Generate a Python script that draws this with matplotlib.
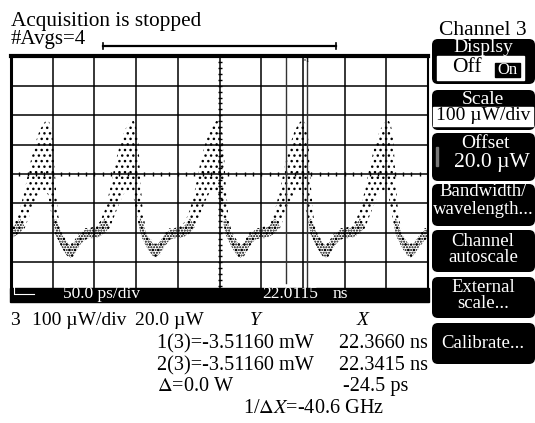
"""Sampling-scope screen capture: Channel 3 pulse train, 50 ps/div."""

import matplotlib.pyplot as plt
import numpy as np
from matplotlib.patches import FancyBboxPatch, Rectangle

plt.rcParams["font.family"] = ["Liberation Serif", "DejaVu Serif"]
plt.rcParams["mathtext.fontset"] = "stix"
plt.rcParams["hatch.linewidth"] = 1.0
plt.rcParams["hatch.color"] = "black"

W, H = 535, 423

# scope settings (time in ps, power in uW)
t_left_ps = 22011.5
ps_per_div = 50.0
uw_per_div = 100.0
offset_uw = 20.0
n_xdiv, n_ydiv = 10, 8

# dot cloud of one period, read relative to each pulse peak
phase_ps = [-48, -42, -36, -30, -24, -18, -12, -6, 0, 4, 7,
            10, 13, 16, 20, 26, 31, 36, 42, 48, 54]
cloud_low_uw = [-198, -198, -194, -181, -164, -119, -75, -41, -34, -51, -102,
                -143, -187, -204, -228, -255, -272, -255, -225, -204, -198]
cloud_high_uw = [-164, -157, -143, -102, -34, 51, 119, 170, 197, 204, 187,
                 136, -17, -119, -177, -204, -218, -204, -177, -164, -164]
# denser core of the dots (valley and plateau only)
core_low_uw = [-196, -196, -192, -180, -160, -119, -75, -41, -34, -51, -102,
               -143, -187, -204, -228, -255, -265, -250, -222, -204, -196]
core_high_uw = [-168, -165, -155, -130, -160, -119, -75, -41, -34, -51, -102,
                -143, -130, -150, -185, -210, -225, -210, -185, -170, -168]
peak_ps = [22052, 22154, 22256, 22358, 22460]

# marker positions
marker1_ps = 22366.0
marker2_ps = 22341.5

fig = plt.figure(figsize=(W / 100, H / 100), dpi=100)

# ---- scope graticule -------------------------------------------------------
gx0, gx1, gy0, gy1 = 11, 428, 56.4, 291.6
ax = fig.add_axes([gx0 / W, (H - gy1) / H, (gx1 - gx0) / W, (gy1 - gy0) / H])
t_right = t_left_ps + n_xdiv * ps_per_div
y_low = offset_uw - n_ydiv / 2 * uw_per_div
y_high = offset_uw + n_ydiv / 2 * uw_per_div
ax.set_xlim(t_left_ps, t_right)
ax.set_ylim(y_low, y_high)
ax.set_xticks(np.linspace(t_left_ps, t_right, n_xdiv + 1))
ax.set_yticks(np.linspace(y_low, y_high, n_ydiv + 1))
ax.grid(True, color="black", lw=1.1)
ax.tick_params(length=0, labelbottom=False, labelleft=False)
ax.spines["top"].set_linewidth(3)
ax.spines["left"].set_linewidth(2.2)
ax.spines["right"].set_linewidth(1.5)
ax.spines["bottom"].set_visible(False)

# small ticks along the centre lines, 5 per division
t_mid = t_left_ps + n_xdiv / 2 * ps_per_div
xt = np.arange(t_left_ps, t_right + 0.1, ps_per_div / 5)
yt = np.arange(y_low, y_high + 0.1, uw_per_div / 5)
ax.plot(xt, np.full(len(xt), offset_uw), ls="none", marker="|",
        ms=3.5, mew=1, color="black")
ax.plot(np.full(len(yt), t_mid), yt, ls="none", marker="_",
        ms=3.5, mew=1, color="black")

# waveform dots
for p in peak_ps:
    t = p + np.array(phase_ps)
    ax.fill_between(t, cloud_low_uw, cloud_high_uw, facecolor="none",
                    edgecolor="black", hatch="...", linewidth=0)
    ax.fill_between(t, core_low_uw, core_high_uw, facecolor="none",
                    edgecolor="black", hatch="......", linewidth=0)

# cursors
ax.axvline(marker2_ps, ymin=0.037, ymax=1, color="#333333", lw=1)
ax.axvline(marker1_ps, color="#333333", lw=1)

# ---- overlay in pixel coordinates --------------------------------------------
ov = fig.add_axes([0, 0, 1, 1])
ov.set_xlim(0, W)
ov.set_ylim(H, 0)
ov.set_axis_off()

ov.text(306, 61, "×1", fontsize=5, color="black", ha="center", va="center")

ov.text(11, 26, "Acquisition is stopped", fontsize=15.3, va="baseline")
ov.text(11, 44, "#Avgs=4", fontsize=15, va="baseline")
ov.plot([103, 336], [46, 46], color="black", lw=1.6)
ov.plot([103, 103], [43, 49], color="black", lw=1.2)
ov.plot([336, 336], [43, 49], color="black", lw=1.2)

# bottom status bar
ov.add_patch(Rectangle((10, 288), 419, 14, color="black"))
ov.plot([14, 14], [287, 293], color="white", lw=0.8)
ov.plot([14, 34], [294, 294], color="white", lw=0.8)
ov.text(63, 298, "50.0 ps/div", fontsize=12.5, color="white", va="baseline")
ov.text(262, 298, "22.0115", fontsize=12.5, color="white", va="baseline")
ov.text(333, 298, "ns", fontsize=12.5, color="white", va="baseline")

# readout lines
fs = 14.6
ov.text(10, 325, "3", fontsize=14, va="baseline")
ov.text(32, 325, "100 µW/div", fontsize=14, va="baseline")
ov.text(135, 325, "20.0 µW", fontsize=14, va="baseline")
ov.text(250, 325, "Y", fontsize=14, va="baseline", style="italic")
ov.text(357, 325, "X", fontsize=14, va="baseline", style="italic")
ov.text(157, 348, "1(3)=-3.51160 mW", fontsize=fs, va="baseline")
ov.text(428, 348, "22.3660 ns", fontsize=fs, va="baseline", ha="right")
ov.text(157, 370, "2(3)=-3.51160 mW", fontsize=fs, va="baseline")
ov.text(428, 370, "22.3415 ns", fontsize=fs, va="baseline", ha="right")
ov.text(157, 391, r"$\mathit{\Delta}$=0.0 W", fontsize=fs, va="baseline")
ov.text(408, 391, "-24.5 ps", fontsize=fs, va="baseline", ha="right")
ov.text(243, 413, r"1/$\Delta X$=-40.6 GHz", fontsize=fs, va="baseline")

# ---- right-hand softkey menu -------------------------------------------------
ov.text(483, 35, "Channel 3", fontsize=15.5, ha="center", va="baseline")
buttons = [(39, 84), (90, 130), (133, 181), (184, 226),
           (230, 272), (277, 318), (323, 364)]
for top, bottom in buttons:
    ov.add_patch(FancyBboxPatch((432, top), 103, bottom - top,
                                boxstyle="round,pad=0,rounding_size=6",
                                facecolor="black", edgecolor="none"))


def key_text(x, y, s, size=14, color="white"):
    ov.text(x, y, s, fontsize=size, color=color, ha="center", va="center")


key_text(483, 48, "Displsy", 14)
ov.add_patch(Rectangle((437, 56), 87, 24, color="white"))
key_text(467, 68, "Off", 15.5, "black")
ov.add_patch(Rectangle((495, 63), 25, 14, color="black"))
key_text(507.5, 70, "On", 12)

key_text(483, 99, "Scale")
ov.add_patch(Rectangle((433, 107), 100, 19, color="white"))
key_text(483, 116, "100 µW/div", 14, "black")

key_text(485, 143, "Offset")
key_text(492, 162, "20.0 µW", 15.5)
ov.add_patch(Rectangle((436, 147), 2, 19, color="#777777"))

key_text(483, 192, "Bandwidth/", 13.5)
key_text(483, 209, "wavelength...", 13.5)
key_text(483, 241, "Channel", 13.5)
key_text(483, 258, "autoscale", 13.5)
key_text(483, 287, "External", 13.5)
key_text(483, 304, "scale...", 13.5)
key_text(483, 343, "Calibrate...", 13.5)

fig.savefig("out.png", dpi=100)
